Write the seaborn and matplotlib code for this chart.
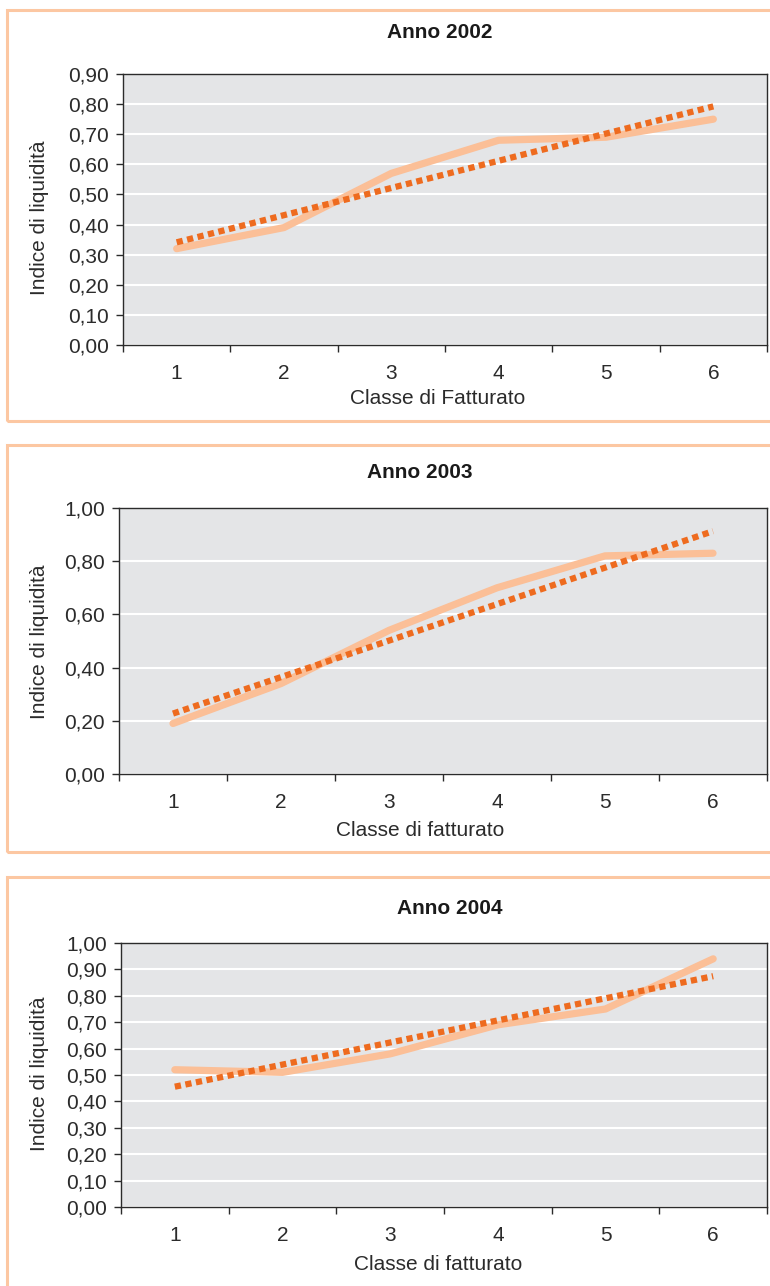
import numpy as np
import pandas as pd
import matplotlib
matplotlib.use("Agg")
import matplotlib.pyplot as plt
from matplotlib.patches import Rectangle
from matplotlib.ticker import FuncFormatter, FixedLocator
import seaborn as sns

# Liquidity index by turnover class, one panel per year
classes = [1, 2, 3, 4, 5, 6]
idx_2002 = [0.32, 0.39, 0.57, 0.68, 0.69, 0.75]
idx_2003 = [0.19, 0.34, 0.54, 0.70, 0.82, 0.83]
idx_2004 = [0.52, 0.51, 0.58, 0.69, 0.75, 0.94]
titles = ["Anno 2002", "Anno 2003", "Anno 2004"]
xlabels = ["Classe di Fatturato", "Classe di fatturato", "Classe di fatturato"]
ylabel = "Indice di liquidità"

sns.set_style("ticks")
plt.rcParams["font.family"] = ["Liberation Sans", "DejaVu Sans"]

W, H = 770, 1286
DPI = 100
fig = plt.figure(figsize=(W / DPI, H / DPI), dpi=DPI)
fig.patch.set_facecolor("white")

LINE = "#fbbf97"
TREND = "#ee6b1f"
FRAME = "#fcc7a2"
PANEL_BG = "#e4e5e7"
INK = "#2b2b2b"
FS = 15


def rect(l, r, t, b):
    return [l / W, 1 - b / H, (r - l) / W, (b - t) / H]


def comma_fmt(v, _pos):
    return f"{v:.2f}".replace(".", ",")


panels = [
    dict(vals=idx_2002, box=(123, 767, 74, 345), ymax=0.90, step=0.10,
         frame=(7, 10, 421), title_xy=(440, 33), xl_xy=(438, 398), yl_y=218),
    dict(vals=idx_2003, box=(119, 767, 508, 774), ymax=1.00, step=0.20,
         frame=(7, 445, 852), title_xy=(420, 472), xl_xy=(420, 831), yl_y=642),
    dict(vals=idx_2004, box=(121, 767, 943, 1207), ymax=1.00, step=0.10,
         frame=(7, 877, 1300), title_xy=(450, 908), xl_xy=(438, 1265), yl_y=1074),
]

for i, p in enumerate(panels):
    # outer frame around each panel
    fl, ft, fb = p["frame"]
    fig.add_artist(Rectangle((fl / W, 1 - fb / H), (W + 20 - fl) / W, (fb - ft) / H,
                             transform=fig.transFigure, fill=False,
                             edgecolor=FRAME, linewidth=2.2, clip_on=False))

    l, r, t, b = p["box"]
    ax = fig.add_axes(rect(l, r, t, b))
    ax.set_facecolor(PANEL_BG)

    df = pd.DataFrame({"classe": classes, "indice": p["vals"]})
    sns.lineplot(data=df, x="classe", y="indice", ax=ax, color=LINE,
                 linewidth=5.2, solid_capstyle="round", solid_joinstyle="round",
                 zorder=3)
    sns.regplot(data=df, x="classe", y="indice", ax=ax, scatter=False, ci=None,
                truncate=True,
                line_kws=dict(color=TREND, linewidth=4.5, linestyle=(0, (1.0, 0.72)),
                              dash_capstyle="butt", zorder=4))

    ax.set_xlim(0.5, 6.5)
    ax.set_ylim(0, p["ymax"])
    yt = np.round(np.arange(0, p["ymax"] + 1e-9, p["step"]), 2)
    ax.yaxis.set_major_locator(FixedLocator(yt))
    ax.yaxis.set_major_formatter(FuncFormatter(comma_fmt))

    ax.xaxis.set_major_locator(FixedLocator(classes))
    ax.xaxis.set_minor_locator(FixedLocator(np.arange(0.5, 6.6, 1.0)))
    ax.tick_params(axis="x", which="major", length=0, pad=14, labelsize=FS,
                   labelcolor=INK)
    ax.tick_params(axis="x", which="minor", length=5, width=1.0, color=INK,
                   direction="out")
    ax.tick_params(axis="y", which="major", length=5, width=1.0, color=INK,
                   direction="out", pad=5, labelsize=FS, labelcolor=INK)

    ax.grid(axis="y", color="white", linewidth=1.5)
    ax.grid(axis="x", visible=False)
    ax.set_axisbelow(True)
    for s in ax.spines.values():
        s.set_visible(True)
        s.set_color(INK)
        s.set_linewidth(1.0)

    ax.set_xlabel(xlabels[i], fontsize=FS, color=INK)
    ax.set_ylabel(ylabel, fontsize=FS, color=INK)
    xlx, xly = p["xl_xy"]
    ax.xaxis.set_label_coords((xlx - l) / (r - l), -(xly - b) / (b - t))
    ax.xaxis.label.set_va("center")
    ax.yaxis.set_label_coords((40 - l) / (r - l), (b - p["yl_y"]) / (b - t))
    ax.yaxis.label.set_va("center")

    tx, ty = p["title_xy"]
    fig.text(tx / W, 1 - ty / H, titles[i], ha="center", va="center",
             fontsize=FS, fontweight="bold", color="#1a1a1a")

fig.savefig("out.png", dpi=DPI, facecolor="white")
